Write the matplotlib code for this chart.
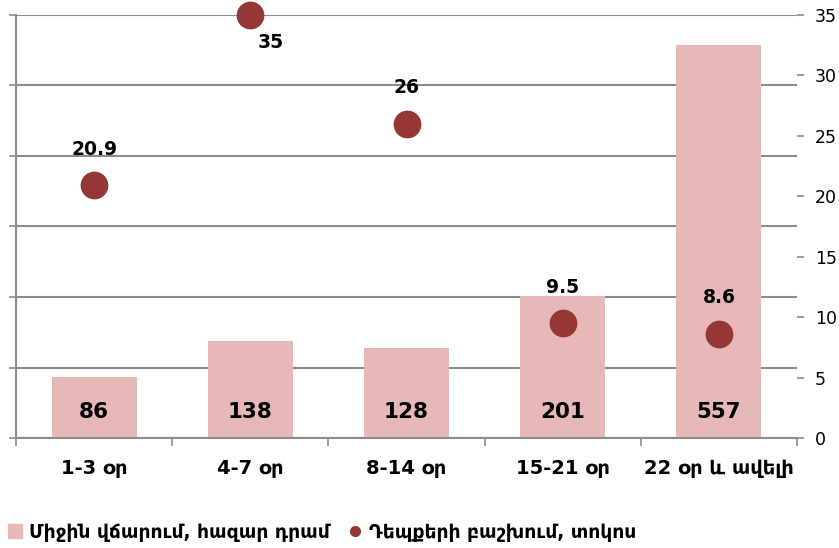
import matplotlib
matplotlib.use("Agg")
import matplotlib.pyplot as plt
from matplotlib.lines import Line2D
from matplotlib.patches import Patch
import numpy as np

categories = ["1-3 օր", "4-7 օր", "8-14 օր", "15-21 օր", "22 օր և ավելի"]
avg_payment = [86, 138, 128, 201, 557]
case_share = [20.9, 35, 26, 9.5, 8.6]

bar_color = "#E6B9B8"
dot_color = "#953735"
grid_color = "#8C8C8C"
fam = ["DejaVu Sans"]

fig = plt.figure(figsize=(8.39, 5.48), dpi=100)
ax = fig.add_axes([16 / 839, 110 / 548, 781 / 839, 423 / 548])
ax2 = ax.twinx()

x = np.arange(len(categories))
ax.bar(x, avg_payment, width=0.545, color=bar_color, zorder=2)
ax.set_ylim(0, 600)
ax.set_xlim(-0.5, len(categories) - 0.5)
ax.set_yticks(np.arange(0, 601, 100))
ax.set_yticklabels([])
ax.yaxis.grid(True, color=grid_color, linewidth=1.5, zorder=0)
ax.set_axisbelow(True)
ax.tick_params(axis="y", length=5, width=1.2, color=grid_color, direction="out")

# category boundaries carry the x ticks, names sit between them
ax.set_xticks(np.arange(-0.5, len(categories), 1.0))
ax.set_xticklabels([])
ax.set_xticks(x, minor=True)
ax.set_xticklabels(categories, minor=True, fontsize=14, fontweight="bold",
                   family=fam)
ax.tick_params(axis="x", which="major", length=6, width=1.2, color=grid_color)
ax.tick_params(axis="x", which="minor", length=0, pad=15)

for side in ["top", "right"]:
    ax.spines[side].set_visible(False)
    ax2.spines[side].set_visible(False)
ax2.spines["left"].set_visible(False)
ax2.spines["bottom"].set_visible(False)
for sp in [ax.spines["left"], ax.spines["bottom"], ax2.spines["right"]]:
    sp.set_color(grid_color)
    sp.set_linewidth(1.5)

for xi, v in zip(x, avg_payment):
    ax.text(xi, 37, str(v), ha="center", va="center", fontsize=15.5,
            fontweight="bold", family=fam, zorder=3)

ax2.scatter(x, case_share, s=360, color=dot_color, zorder=4, clip_on=False)
ax2.set_ylim(0, 35)
ax2.set_yticks(np.arange(0, 36, 5))
ax2.tick_params(axis="y", length=5, width=1.2, color=grid_color, labelsize=12.5,
                pad=8)

for xi, v in zip(x, case_share):
    label = f"{v:g}"
    if v >= 35:
        offset = (14.5, -19.5)
    else:
        offset = (0, 26)
    ax2.annotate(label, (xi, v), xytext=offset, textcoords="offset points",
                 ha="center", va="center", fontsize=13.5, fontweight="bold")

handles = [
    Patch(color=bar_color, label="Միջին վճարում, հազար դրամ"),
    Line2D([], [], marker="o", linestyle="none", markersize=7,
           color=dot_color, label="Դեպքերի բաշխում, տոկոս"),
]
fig.legend(handles=handles, loc="center left", bbox_to_anchor=(-0.01, 16 / 548),
           ncol=2, frameon=False, handlelength=0.7, handletextpad=0.4,
           columnspacing=1.0, prop={"family": fam, "weight": "bold", "size": 13.5})

fig.savefig("out.png", dpi=100)
